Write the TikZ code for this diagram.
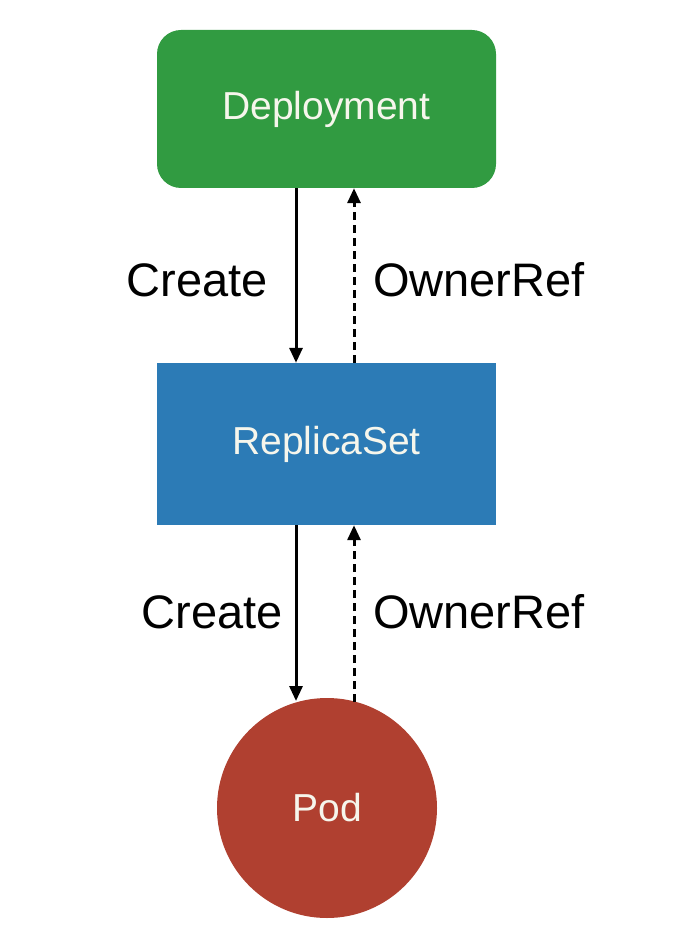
\documentclass[tikz,border=0pt]{standalone}
\usepackage{fontspec}
\setmainfont{Liberation Sans}
\usetikzlibrary{arrows.meta}
\definecolor{depgreen}{HTML}{319B41}
\definecolor{rsblue}{HTML}{2C7BB6}
\definecolor{podred}{HTML}{B04030}
\definecolor{txtwhite}{HTML}{F6F6EC}
\begin{document}
\begin{tikzpicture}[x=1pt,y=-1pt,
  boxtext/.style={text=txtwhite,font=\fontsize{39}{42}\selectfont},
  lbl/.style={font=\fontsize{47}{50}\selectfont,inner sep=0pt},
  createarrow/.style={line width=3pt,-{Triangle[length=15pt,width=13pt]}},
  ownerarrow/.style={line width=3pt,dash pattern=on 8pt off 5pt,-{Triangle[length=15pt,width=13pt]}}]
\useasboundingbox (0,0) rectangle (674,941);
\node[fill=depgreen,rounded corners=24pt,minimum width=339pt,minimum height=158pt,inner sep=0pt,boxtext] (dep) at (326.5,109) {Deployment};
\node[fill=rsblue,minimum width=339pt,minimum height=162pt,inner sep=0pt,boxtext] (rs) at (326.5,444) {ReplicaSet};
\node[circle,fill=podred,minimum size=220pt,inner sep=0pt,boxtext] (pod) at (327,808) {Pod};
\coordinate (d1) at (296,188);
\coordinate (d2) at (354,188);
\draw[createarrow] (dep.south -| d1) -- (rs.north -| d1);
\draw[ownerarrow] (rs.north -| d2) -- (dep.south -| d2);
\coordinate (p1) at (296,701);
\coordinate (p2) at (354,702);
\draw[createarrow] (rs.south -| d1) -- (p1);
\draw[ownerarrow] (p2) -- (rs.south -| d2);
\node[lbl,anchor=east] (c1) at (268,280) {Create};
\node[lbl,anchor=west] (o1) at (373,280) {OwnerRef};
\node[lbl,anchor=east] (c2) at (283,612) {Create};
\node[lbl,anchor=west] (o2) at (373,612) {OwnerRef};
\end{tikzpicture}
\end{document}
